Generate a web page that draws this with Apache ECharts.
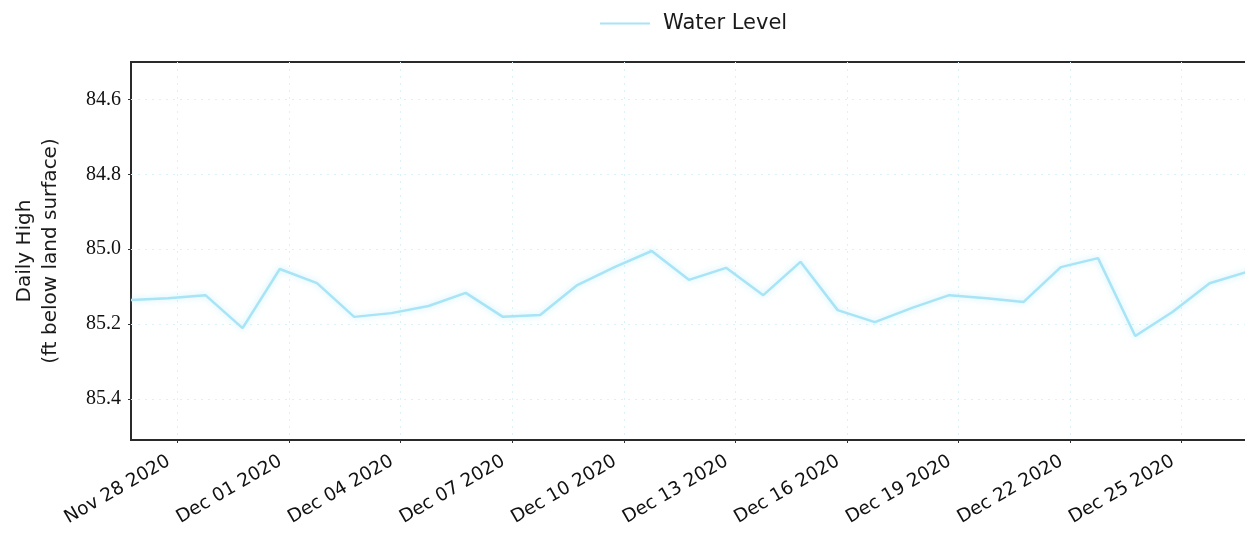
<!DOCTYPE html>
<html>
<head>
<meta charset="utf-8">
<script src="https://cdn.jsdelivr.net/npm/echarts@6/dist/echarts.min.js"></script>
<style>html,body{margin:0;padding:0;background:#fff;}#c{width:1245px;height:533px;}</style>
</head>
<body>
<div id="c"></div>
<script>
// Daily high water level (ft below land surface), one reading per day (recorded ~18:00)
const dates = ['2020-11-26','2020-11-27','2020-11-28','2020-11-29','2020-11-30','2020-12-01','2020-12-02','2020-12-03','2020-12-04','2020-12-05','2020-12-06','2020-12-07','2020-12-08','2020-12-09','2020-12-10','2020-12-11','2020-12-12','2020-12-13','2020-12-14','2020-12-15','2020-12-16','2020-12-17','2020-12-18','2020-12-19','2020-12-20','2020-12-21','2020-12-22','2020-12-23','2020-12-24','2020-12-25','2020-12-26','2020-12-27'];
const waterLevel = [85.136,85.131,85.123,85.211,85.053,85.091,85.181,85.171,85.152,85.117,85.181,85.176,85.096,85.048,85.005,85.082,85.050,85.123,85.034,85.163,85.195,85.157,85.123,85.131,85.141,85.048,85.024,85.232,85.168,85.091,85.061,85.050];
const tickDates = ['2020-11-28','2020-12-01','2020-12-04','2020-12-07','2020-12-10','2020-12-13','2020-12-16','2020-12-19','2020-12-22','2020-12-25'];
const yTicks = [84.6,84.8,85.0,85.2,85.4];
const readingTime = 'T18:00:00';
const seriesName = 'Water Level';

function ts(s){ return new Date(s + (s.length === 10 ? 'T00:00:00' : '')).getTime(); }
const points = dates.map((d,i)=>[ts(d + readingTime), waterLevel[i]]);
const tickValues = tickDates.map(d=>ts(d));

const chart = echarts.init(document.getElementById('c'), null, {renderer:'canvas'});
chart.setOption({
  backgroundColor:'#ffffff',
  animation:false,
  legend:{
    data:[{name:seriesName, icon:'path://M0,0 L50,0 L50,2 L0,2 Z'}],
    top:8, left:595,
    itemWidth:50, itemHeight:3, itemGap:18,
    textStyle:{fontFamily:'DejaVu Sans', fontSize:21, color:'#1a1a1a', fontWeight:500, padding:[0,0,0,8]}
  },
  grid:{left:131, top:62, height:378, width:1153, outerBoundsMode:'none', containLabel:false,
        show:true, borderColor:'#2a2a2a', borderWidth:2},
  xAxis:{
    type:'time',
    min: points[0][0],
    max: points[points.length-1][0],
    axisLine:{show:false},
    axisTick:{show:true, customValues:tickValues, length:3, lineStyle:{color:'#333'}},
    axisLabel:{
      customValues:tickValues,
      rotate:30,
      margin:15,
      padding:[0,10,0,0],
      fontFamily:'DejaVu Sans', fontSize:18.5, color:'#111',
      formatter:'{MMM} {dd} {yyyy}'
    },
    splitLine:{show:true, lineStyle:{color:'#daf3fa', type:[2,5], width:1}}
  },
  yAxis:{
    type:'value',
    inverse:true,
    min:84.5,
    max:85.51,
    name:'Daily High\n(ft below land surface)',
    nameLocation:'middle',
    nameGap:67,
    nameTextStyle:{fontFamily:'DejaVu Sans', fontSize:20, color:'#1a1a1a', lineHeight:26},
    axisLine:{show:false},
    axisTick:{show:true, customValues:yTicks, length:3, lineStyle:{color:'#333'}},
    axisLabel:{customValues:yTicks, margin:10, fontFamily:'Liberation Serif', fontSize:20, color:'#111',
      formatter:v=>v.toFixed(1)},
    splitLine:{show:true, lineStyle:{color:'#daf3fa', type:[2,5], width:1}}
  },
  series:[{
    name:seriesName,
    type:'line',
    data:points,
    showSymbol:false,
    symbol:'none',
    lineStyle:{color:'#a6e4f6', width:2.5, shadowColor:'rgba(160,228,248,0.6)', shadowBlur:6},
    itemStyle:{color:'#a6e4f6'}
  }]
});
</script>
</body>
</html>
